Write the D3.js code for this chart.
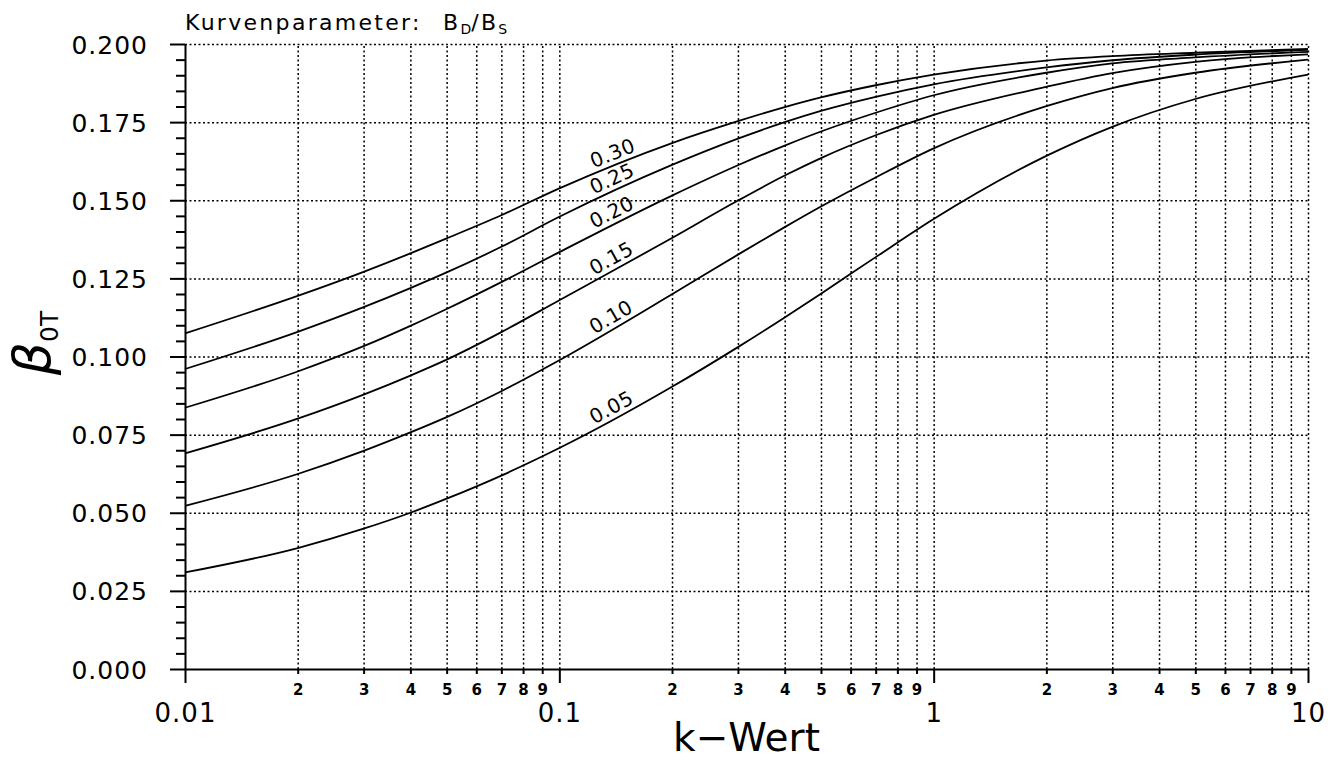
<!DOCTYPE html>
<html>
<head>
<meta charset="utf-8">
<script src="https://cdn.jsdelivr.net/npm/d3@7"></script>
<style>
  body { margin: 0; background: #fff; }
  svg { display: block; font-family: 'DejaVu Sans', sans-serif; }
  .grid line { stroke: #000; stroke-width: 1.5; stroke-dasharray: 2 2.5; }
  .grid path { display: none; }
  .axis path, .axis line { stroke: #000; stroke-width: 2; }
  .curve { fill: none; stroke: #000; stroke-width: 1.8; }
</style>
</head>
<body>
<div id="chart"></div>
<script>
// k-Wert Stützstellen
const kValues = [0.01, 0.02, 0.03, 0.04, 0.05, 0.07, 0.1, 0.2, 0.3, 0.4, 0.5, 0.7, 1, 2, 3, 5, 10]

// Kurvenparameter B_D/B_S
const curveParams = ['0.30', '0.25', '0.20', '0.15', '0.10', '0.05']

const beta030 = [0.1074, 0.1194, 0.1271, 0.1330, 0.1378, 0.1452, 0.1538, 0.1683, 0.1753, 0.1798, 0.1829, 0.1868, 0.1902, 0.1947, 0.1961, 0.1972, 0.1984]
const beta025 = [0.0960, 0.1079, 0.1158, 0.1219, 0.1269, 0.1351, 0.1447, 0.1613, 0.1697, 0.1750, 0.1786, 0.1831, 0.1871, 0.1925, 0.1948, 0.1966, 0.1981]
const beta020 = [0.0836, 0.0952, 0.1033, 0.1098, 0.1152, 0.1238, 0.1334, 0.1515, 0.1612, 0.1675, 0.1720, 0.1780, 0.1836, 0.1908, 0.1938, 0.1957, 0.1975]
const beta015 = [0.0690, 0.0801, 0.0878, 0.0939, 0.0990, 0.1078, 0.1180, 0.1379, 0.1499, 0.1579, 0.1635, 0.1708, 0.1773, 0.1863, 0.1907, 0.1943, 0.1967]
const beta010 = [0.0522, 0.0624, 0.0698, 0.0757, 0.0806, 0.0889, 0.0988, 0.1199, 0.1326, 0.1414, 0.1480, 0.1573, 0.1666, 0.1801, 0.1859, 0.1908, 0.1950]
const beta005 = [0.0309, 0.0387, 0.0449, 0.0500, 0.0545, 0.0619, 0.0707, 0.0903, 0.1030, 0.1125, 0.1201, 0.1318, 0.1440, 0.1642, 0.1735, 0.1824, 0.1902]

const yTicks = [0, 0.025, 0.05, 0.075, 0.1, 0.125, 0.15, 0.175, 0.2]
const xDecades = [0.01, 0.1, 1, 10]
const xDecadeLabels = ['0.01', '0.1', '1', '10']
const xMinorDigits = [2, 3, 4, 5, 6, 7, 8, 9]

const W = 1331, H = 763
const plot = { left: 185, right: 1308, top: 44, bottom: 669 }

const svg = d3.select('#chart').append('svg').attr('width', W).attr('height', H)

const x = d3.scaleLog().domain([0.01, 10]).range([plot.left, plot.right])
const y = d3.scaleLinear().domain([0, 0.2]).range([plot.bottom, plot.top])

const xMinor = xDecades.slice(0, -1).flatMap(d => xMinorDigits.map(m => +(d * m).toPrecision(3)))
const yMinor = d3.range(0, 0.2001, 0.005).filter((v, i) => i % 5 !== 0)

// Gitter
svg.append('g').attr('class', 'grid')
  .attr('transform', `translate(${plot.left},0)`)
  .call(d3.axisLeft(y).tickValues(yTicks.slice(1)).tickSize(-(plot.right - plot.left)).tickFormat(''))
svg.append('g').attr('class', 'grid')
  .attr('transform', `translate(0,${plot.bottom})`)
  .call(d3.axisBottom(x).tickValues(xMinor.concat(xDecades.slice(1))).tickSize(-(plot.bottom - plot.top)).tickFormat(''))

// y-Achse
const yAxis = svg.append('g').attr('class', 'axis')
  .attr('transform', `translate(${plot.left},0)`)
  .call(d3.axisLeft(y).tickValues(yTicks).tickSize(15).tickSizeOuter(0).tickPadding(22).tickFormat(d3.format('.3f')))
yAxis.attr('font-family', null).attr('font-size', null)
yAxis.selectAll('text').attr('font-size', 25).attr('letter-spacing', 1).attr('dy', '0.36em')

svg.append('g').attr('class', 'axis')
  .attr('transform', `translate(${plot.left},0)`)
  .call(d3.axisLeft(y).tickValues(yMinor).tickSize(9).tickSizeOuter(0).tickFormat(''))
  .select('.domain').remove()

// x-Achse
const xAxis = svg.append('g').attr('class', 'axis')
  .attr('transform', `translate(0,${plot.bottom})`)
  .call(d3.axisBottom(x).tickValues(xDecades).tickSize(14).tickSizeOuter(0)
    .tickFormat((d, i) => xDecadeLabels[i]))
xAxis.attr('font-family', null).attr('font-size', null)
xAxis.selectAll('text').attr('font-size', 26).attr('letter-spacing', 1).attr('dy', null).attr('y', 53)

const xMinorAxis = svg.append('g').attr('class', 'axis')
  .attr('transform', `translate(0,${plot.bottom})`)
  .call(d3.axisBottom(x).tickValues(xMinor).tickSize(5).tickSizeOuter(0)
    .tickFormat(d => xMinorDigits[Math.round(d / Math.pow(10, Math.floor(Math.log10(d) + 1e-9))) - 2]))
xMinorAxis.select('.domain').remove()
xMinorAxis.attr('font-family', null).attr('font-size', null)
xMinorAxis.selectAll('text').attr('font-size', 15).attr('font-weight', 'bold').attr('dy', null).attr('y', 26)

// Kurven
const series = [beta030, beta025, beta020, beta015, beta010, beta005]
const line = d3.line()
  .x((d, i) => x(kValues[i]))
  .y(d => y(d))
  .curve(d3.curveMonotoneX)

function pointAtX(node, px) {
  let lo = 0, hi = node.getTotalLength()
  for (let i = 0; i < 40; i++) {
    const mid = (lo + hi) / 2
    if (node.getPointAtLength(mid).x < px) lo = mid
    else hi = mid
  }
  return node.getPointAtLength(lo)
}

series.forEach((values, i) => {
  const path = svg.append('path').attr('class', 'curve').attr('d', line(values))
  const node = path.node()
  const p0 = pointAtX(node, 598), p1 = pointAtX(node, 636)
  const angle = Math.atan2(p1.y - p0.y, p1.x - p0.x) * 180 / Math.PI
  svg.append('text')
    .attr('transform', `translate(${(p0.x + p1.x) / 2},${(p0.y + p1.y) / 2}) rotate(${angle})`)
    .attr('y', -5)
    .attr('text-anchor', 'middle')
    .attr('font-size', 20)
    .attr('letter-spacing', 0.5)
    .text(curveParams[i])
})

// Beschriftung
const title = svg.append('text').attr('x', plot.left).attr('y', 30).attr('font-size', 22).attr('letter-spacing', 2.3)
title.append('tspan').text('Kurvenparameter:')
title.append('tspan').attr('x', 443).text('B')
title.append('tspan').attr('font-size', 14).attr('dy', 4).attr('letter-spacing', 0).text('D')
title.append('tspan').attr('dy', -4).text('/B')
title.append('tspan').attr('font-size', 14).attr('dy', 4).attr('letter-spacing', 0).text('S')

const yLabel = svg.append('text')
  .attr('transform', 'translate(50,343) rotate(-90)')
  .attr('text-anchor', 'middle')
yLabel.append('tspan').attr('font-size', 52).attr('font-style', 'italic').text('β')
yLabel.append('tspan').attr('font-size', 25).attr('dy', 8).text('0T')

svg.append('text')
  .attr('x', (plot.left + plot.right) / 2)
  .attr('y', 751)
  .attr('text-anchor', 'middle')
  .attr('font-size', 39)
  .text('k−Wert')
</script>
</body>
</html>
